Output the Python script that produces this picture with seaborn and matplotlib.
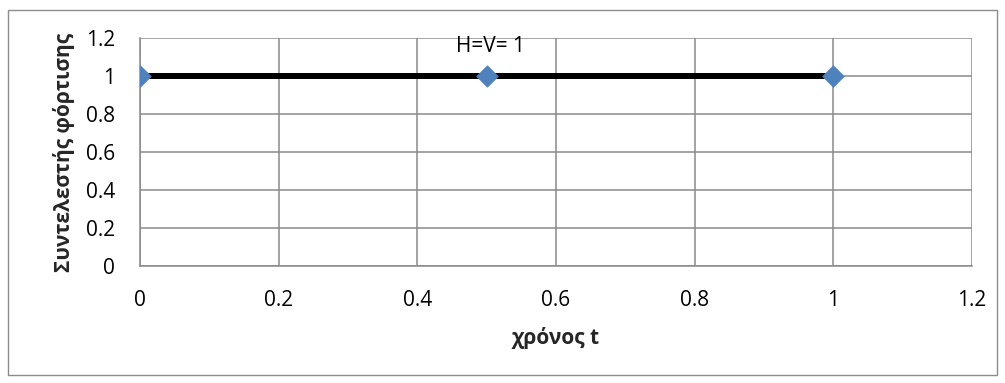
import matplotlib
matplotlib.use("Agg")
import matplotlib.pyplot as plt
import seaborn as sns
import pandas as pd

# Load factor over time
time_t = [0.0, 0.5, 1.0]
load_factor = [1.0, 1.0, 1.0]
x_ticks = [0, 0.2, 0.4, 0.6, 0.8, 1.0, 1.2]
y_ticks = [0, 0.2, 0.4, 0.6, 0.8, 1.0, 1.2]
tick_text = ["0", "0.2", "0.4", "0.6", "0.8", "1", "1.2"]
x_title = "χρόνος t"
y_title = "Συντελεστής φόρτισης"
note = "H=V= 1"

sns.set_theme(style="white")
plt.rcParams["font.family"] = ["Open Sans", "DejaVu Sans"]

df = pd.DataFrame({"t": time_t, "f": load_factor})

fig = plt.figure(figsize=(10.05, 3.83), dpi=100)
ax = fig.add_axes([0.1393, 0.3055, 0.8279, 0.5953])

grid_c = "#8a8a8a"
fs = 15

sns.lineplot(data=df, x="t", y="f", ax=ax, color="black", linewidth=4.3,
             zorder=3)
sns.scatterplot(data=df, x="t", y="f", ax=ax, marker="D", s=120,
                color="#4F81BD", edgecolor="#4F81BD", linewidth=0.5,
                zorder=4)

ax.set_xlim(0, 1.2)
ax.set_ylim(0, 1.2)
ax.set_xticks(x_ticks)
ax.set_yticks(y_ticks)
ax.set_xticklabels(tick_text)
ax.set_yticklabels(tick_text)
ax.grid(True, color=grid_c, linewidth=1.1)
ax.set_axisbelow(True)

for side in ["top", "right"]:
    ax.spines[side].set_visible(False)
for side in ["left", "bottom"]:
    ax.spines[side].set_color(grid_c)
    ax.spines[side].set_linewidth(1.1)

ax.tick_params(axis="both", which="major", direction="out", length=6,
               width=1.1, color=grid_c, labelsize=fs, labelcolor="black")
ax.tick_params(axis="y", pad=12)
ax.tick_params(axis="x", pad=11)

ax.set_xlabel(x_title, fontsize=fs, fontweight="bold", labelpad=12)
ax.set_ylabel(y_title, fontsize=fs, fontweight="bold", labelpad=8)

ax.text(0.505, 1.155, note, ha="center", va="center", fontsize=fs,
        color="black")

# outer chart frame
frame = plt.Rectangle((0.008, 0.02), 0.984, 0.955, transform=fig.transFigure,
                      fill=False, edgecolor="#8c8c8c", linewidth=1.0)
fig.add_artist(frame)

fig.savefig("out.png", dpi=100, facecolor="white")
